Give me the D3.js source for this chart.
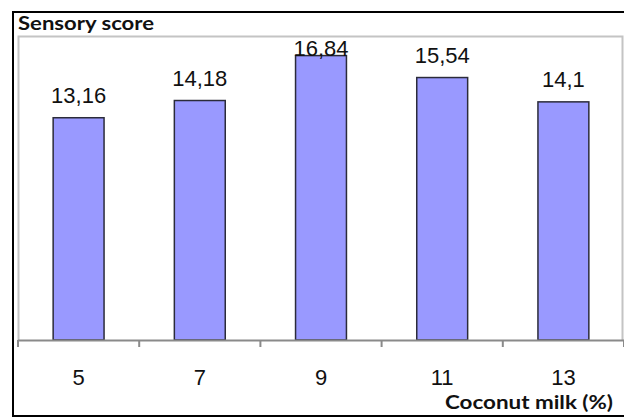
<!DOCTYPE html>
<html>
<head>
<meta charset="utf-8">
<script src="https://cdn.jsdelivr.net/npm/d3@7/dist/d3.min.js"></script>
<style>
  html, body { margin: 0; padding: 0; background: #fff; }
  svg { display: block; }
</style>
</head>
<body>
<script>
// Sensory score by coconut milk level
const categories = ["5", "7", "9", "11", "13"];
const scores = [13.16, 14.18, 16.84, 15.54, 14.1];
const scoreLabels = ["13,16", "14,18", "16,84", "15,54", "14,1"];
const yDomain = [0, 18];

const W = 624, H = 417;
const plot = { left: 18, top: 36, right: 624, bottom: 340 };

const svg = d3.select("body").append("svg")
  .attr("width", W).attr("height", H);

// outer frame
svg.append("path")
  .attr("d", `M${W + 5},12 H13 V416 H${W + 5}`)
  .attr("fill", "none").attr("stroke", "#000").attr("stroke-width", 2);

const x = d3.scaleBand()
  .domain(categories)
  .range([plot.left, plot.right])
  .paddingInner(0.58).paddingOuter(0.29);

const y = d3.scaleLinear().domain(yDomain).range([plot.bottom, plot.top]);

// plot area border
svg.append("path")
  .attr("d", `M${plot.left + 0.5},${plot.bottom} V${plot.top + 0.5} H${plot.right - 1.5} V${plot.bottom}`)
  .attr("fill", "none").attr("stroke", "#c4c4c4").attr("stroke-width", 2);

// bars
svg.append("g").selectAll("rect")
  .data(scores)
  .join("rect")
  .attr("x", (d, i) => x(categories[i]))
  .attr("y", d => y(d))
  .attr("width", x.bandwidth())
  .attr("height", d => y(0) - y(d))
  .attr("fill", "#9999ff")
  .attr("stroke", "#2b2b3a")
  .attr("stroke-width", 1.5);

// x axis with ticks between categories
const step = x.step();
const tickPos = d3.range(categories.length + 1).map(i => plot.left + i * (plot.right - plot.left) / categories.length);
const axisG = svg.append("g");
axisG.append("line")
  .attr("x1", plot.left).attr("x2", plot.right)
  .attr("y1", plot.bottom + 0.5).attr("y2", plot.bottom + 0.5)
  .attr("stroke", "#8a8a8a").attr("stroke-width", 2);
axisG.selectAll("line.tick")
  .data(tickPos)
  .join("line").attr("class", "tick")
  .attr("x1", d => d).attr("x2", d => d)
  .attr("y1", plot.bottom).attr("y2", plot.bottom + 7)
  .attr("stroke", "#8a8a8a").attr("stroke-width", 2);

axisG.selectAll("text")
  .data(categories)
  .join("text")
  .attr("x", d => x(d) + x.bandwidth() / 2)
  .attr("y", 385)
  .attr("text-anchor", "middle")
  .attr("font-family", "Liberation Sans, Arial, sans-serif")
  .attr("font-size", 22)
  .attr("fill", "#111")
  .text(d => d);

// value labels, kept inside the chart frame
svg.append("g").selectAll("text")
  .data(scores)
  .join("text")
  .attr("x", (d, i) => x(categories[i]) + x.bandwidth() / 2)
  .attr("y", d => Math.max(y(d) - 15, plot.top + 20))
  .attr("text-anchor", "middle")
  .attr("font-family", "Liberation Sans, Arial, sans-serif")
  .attr("font-size", 22)
  .attr("fill", "#111")
  .text((d, i) => scoreLabels[i]);

// titles
svg.append("text")
  .attr("x", 18).attr("y", 30)
  .attr("font-family", "Lato, sans-serif")
  .attr("font-weight", "bold")
  .attr("font-size", 19)
  .attr("textLength", 136).attr("lengthAdjust", "spacingAndGlyphs")
  .attr("fill", "#111")
  .text("Sensory score");

svg.append("text")
  .attr("x", 445).attr("y", 409)
  .attr("font-family", "Lato, sans-serif")
  .attr("font-weight", "bold")
  .attr("font-size", 19)
  .attr("textLength", 168).attr("lengthAdjust", "spacingAndGlyphs")
  .attr("fill", "#111")
  .text("Coconut milk (%)");
</script>
</body>
</html>
